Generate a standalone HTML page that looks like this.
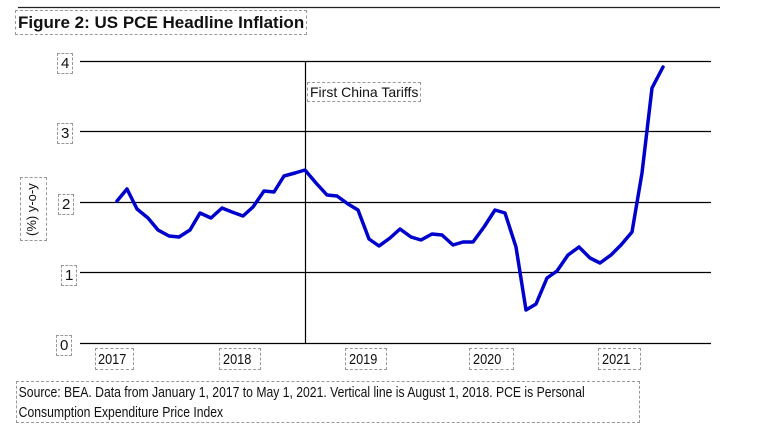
<!DOCTYPE html>
<html><head><meta charset="utf-8"><style>
body{margin:0;width:760px;height:441px;background:#fff;overflow:hidden;font-family:"Liberation Sans",sans-serif;}
.b{position:absolute;border:1px dashed #999;color:#111;white-space:nowrap;line-height:1;}
</style></head><body>
<svg width="760" height="441" style="position:absolute;left:0;top:0">
<line x1="18" y1="7.5" x2="720" y2="7.5" stroke="#222" stroke-width="1.2"/>
<g stroke="#000" stroke-width="1.2">
<line x1="80" y1="61.5" x2="711" y2="61.5"/>
<line x1="80" y1="131.5" x2="711" y2="131.5"/>
<line x1="80" y1="202.5" x2="711" y2="202.5"/>
<line x1="80" y1="272.5" x2="711" y2="272.5"/>
<line x1="80" y1="343.5" x2="711" y2="343.5"/>
<line x1="305.5" y1="61" x2="305.5" y2="343"/>
</g>
<polyline fill="none" stroke="#0000cc" stroke-width="3.5" stroke-linejoin="round" stroke-linecap="round" points="117,201 127,189 137,209 148,218 158,230 169,236 179,237 190,230 200,213 211,218 222,208 232,212 243,216 253,207 264,191 274,192 284,176 295,173 305,170 316,183 327,195 337,196 348,204 358,210 369,239 379,246 390,238 400,229 411,237 421,240 432,234 442,235 453,245 463,242 473,242 484,227 495,210 505,213 516,247 526,310 536,304 547,278 557,271 568,255 579,247 590,258 600,263 611,255 621,245 632,232 642,173 652,88 663,67"/>
</svg>
<div class="b" style="left:15px;top:10px;font-size:17px;font-weight:bold;padding:3px 2px;">Figure 2: US PCE Headline Inflation</div>
<div class="b" style="left:57px;top:53px;font-size:15px;padding:2px 3px;">4</div>
<div class="b" style="left:57px;top:123px;font-size:15px;padding:2px 3px;">3</div>
<div class="b" style="left:58px;top:194px;font-size:15px;padding:2px 3px;">2</div>
<div class="b" style="left:61px;top:265px;font-size:15px;padding:2px 3px;">1</div>
<div class="b" style="left:56px;top:335px;font-size:15px;padding:2px 3px;">0</div>
<div class="b" style="left:20px;top:177px;width:25px;height:62px;"><div style="position:absolute;left:4px;top:58px;transform:rotate(-90deg);transform-origin:0 0;font-size:13px;">(%) y-o-y</div></div>
<div class="b" style="left:307px;top:82px;font-size:14px;padding:2px 2px;">First China Tariffs</div>
<div class="b" style="left:95px;top:348px;width:37px;height:20px;overflow:hidden;"><span style="display:inline-block;font-size:15px;margin:3px 0 0 2px;transform:scaleX(0.85);transform-origin:0 0;">2017</span></div>
<div class="b" style="left:219px;top:348px;width:40px;height:20px;overflow:hidden;"><span style="display:inline-block;font-size:15px;margin:3px 0 0 3px;transform:scaleX(0.85);transform-origin:0 0;">2018</span></div>
<div class="b" style="left:345px;top:348px;width:40px;height:20px;overflow:hidden;"><span style="display:inline-block;font-size:15px;margin:3px 0 0 3px;transform:scaleX(0.85);transform-origin:0 0;">2019</span></div>
<div class="b" style="left:469px;top:348px;width:43px;height:20px;overflow:hidden;"><span style="display:inline-block;font-size:15px;margin:3px 0 0 3px;transform:scaleX(0.85);transform-origin:0 0;">2020</span></div>
<div class="b" style="left:598px;top:348px;width:41px;height:20px;overflow:hidden;"><span style="display:inline-block;font-size:15px;margin:3px 0 0 3px;transform:scaleX(0.85);transform-origin:0 0;">2021</span></div>
<div class="b" style="left:16px;top:381px;width:622px;height:40px;overflow:hidden;"><div style="width:740px;font-size:14.5px;line-height:20px;white-space:normal;padding:1px 2px;transform:scaleX(0.84);transform-origin:0 0;">Source: BEA. Data from January 1, 2017 to May 1, 2021. Vertical line is August 1, 2018. PCE is Personal<br>Consumption Expenditure Price Index</div></div>
</body></html>
